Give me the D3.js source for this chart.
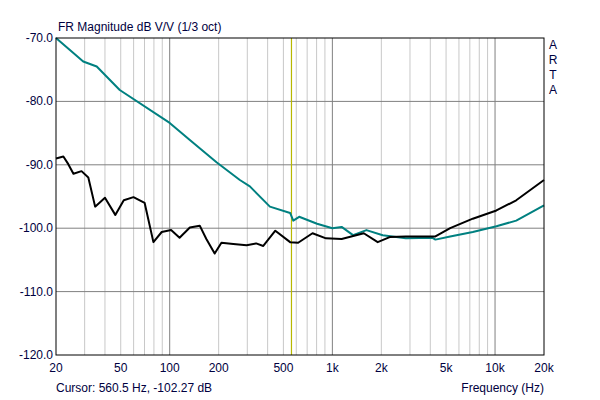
<!DOCTYPE html>
<html><head><meta charset="utf-8">
<script src="https://cdn.jsdelivr.net/npm/d3@7"></script>
<style>body{margin:0;background:#fff}text{font-family:"Liberation Sans",Arial,sans-serif;font-size:12px;fill:#000}</style>
</head><body><div id="chart"></div>
<script>
// data
var tealFreq = [20,29.4,35.6,49.3,100,133,194,270,311,413,550,575,625,805,1000,1140,1340,1620,2040,2830,4100,4300,5300,7300,10200,13500,20000];
var tealDb = [-70,-73.7,-74.5,-78.2,-83.4,-86.1,-89.6,-92.4,-93.4,-96.6,-97.6,-98.8,-98.2,-99.3,-100,-99.8,-101.1,-100.3,-101.1,-101.6,-101.5,-101.8,-101.3,-100.6,-99.7,-98.8,-96.4];
var blackFreq = [20,22.2,23.8,25.6,28.7,31.6,34.8,40,46.3,52.2,59.9,70.1,79.4,89.3,102,115,133,153,168,189,208,246,297,340,376,446,550,616,755,914,1140,1560,1900,2250,2830,4300,5300,7300,10200,13500,20000];
var blackDb = [-89,-88.7,-89.9,-91.4,-91,-92,-96.6,-95.2,-97.9,-95.6,-95.1,-96,-102.2,-100.6,-100.3,-101.5,-99.9,-99.6,-101.7,-104,-102.3,-102.5,-102.7,-102.4,-102.8,-100.4,-102.2,-102.3,-100.8,-101.6,-101.7,-100.8,-102.2,-101.4,-101.3,-101.3,-100,-98.5,-97.2,-95.6,-92.4];
var yTicks = [-70,-80,-90,-100,-110,-120];
var xTicks = [20,50,100,200,500,1000,2000,5000,10000,20000];
var xTickLabels = ["20","50","100","200","500","1k","2k","5k","10k","20k"];
var cursorFreq = 560.5;

var mLeft = 56, mRight = 544, mTop = 38, mBottom = 355;
var svg = d3.select("#chart").append("svg").attr("width", 600).attr("height", 400);

var x = d3.scaleLog().domain([20, 20000]).range([mLeft, mRight]);
var y = d3.scaleLinear().domain([-120, -70]).range([mBottom, mTop]);

// grid
var minor = [];
[10, 100, 1000, 10000].forEach(function(d){
    for (var k = 1; k < 10; k++) { var f = d * k; if (f > 20 && f < 20000) minor.push(f); }
});
svg.selectAll(".vg").data(minor).enter().append("line")
    .attr("x1", d => x(d)).attr("x2", d => x(d)).attr("y1", mTop).attr("y2", mBottom)
    .attr("stroke", d => [100,1000,10000].includes(d) ? "#808080" : "#c8c8c8").attr("stroke-width", 1);
svg.selectAll(".hg").data(yTicks.slice(1, -1)).enter().append("line")
    .attr("x1", mLeft).attr("x2", mRight).attr("y1", d => y(d)).attr("y2", d => y(d))
    .attr("stroke", "#808080");

// cursor
svg.append("line").attr("x1", x(cursorFreq)).attr("x2", x(cursorFreq))
    .attr("y1", mTop).attr("y2", mBottom).attr("stroke", "#b8b800").attr("stroke-width", 1.2);

var line = d3.line().x(d => x(d[0])).y(d => y(d[1]));
svg.append("path").attr("d", line(d3.zip(tealFreq, tealDb)))
    .attr("fill", "none").attr("stroke", "#008080").attr("stroke-width", 2).attr("stroke-linejoin", "round");
svg.append("path").attr("d", line(d3.zip(blackFreq, blackDb)))
    .attr("fill", "none").attr("stroke", "#000").attr("stroke-width", 2).attr("stroke-linejoin", "round");

svg.append("rect").attr("x", mLeft).attr("y", mTop).attr("width", mRight - mLeft).attr("height", mBottom - mTop)
    .attr("fill", "none").attr("stroke", "#000");

// labels
svg.selectAll(".yl").data(yTicks).enter().append("text")
    .attr("x", mLeft - 3).attr("y", d => y(d) + 4).attr("text-anchor", "end").style("fill", "#000040")
    .text(d => d.toFixed(1));
svg.selectAll(".xl").data(xTicks).enter().append("text")
    .attr("x", d => x(d)).attr("y", mBottom + 17).attr("text-anchor", "middle").style("fill", "#000040")
    .text((d, i) => xTickLabels[i]);

svg.append("text").attr("x", 58).attr("y", 31).style("fill", "#000040").text("FR Magnitude dB V/V (1/3 oct)");
svg.append("text").attr("x", 56).attr("y", 392).style("fill", "#000040").text("Cursor: 560.5 Hz, -102.27 dB");
svg.append("text").attr("x", mRight).attr("y", 392).attr("text-anchor", "end").style("fill", "#000040").text("Frequency (Hz)");
["A","R","T","A"].forEach(function(c, i){
    svg.append("text").attr("x", 553).attr("y", 49 + i * 15).attr("text-anchor", "middle").style("fill", "#000040").text(c);
});
</script></body></html>
